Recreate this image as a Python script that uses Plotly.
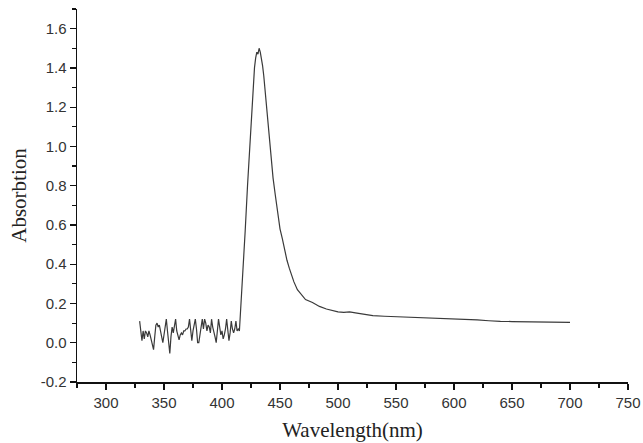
import plotly.graph_objects as go

wavelength = [
    329, 330, 331, 332, 333, 334, 335, 336, 337, 338, 339, 340, 341, 342, 343, 344, 345, 346, 347, 348,
    349, 350, 351, 352, 353, 354, 355, 356, 357, 358, 359, 360, 361, 362, 363, 364, 365, 366, 367, 368,
    369, 370, 371, 372, 373, 374, 375, 376, 377, 378, 379, 380, 381, 382, 383, 384, 385, 386, 387, 388,
    389, 390, 391, 392, 393, 394, 395, 396, 397, 398, 399, 400, 401, 402, 403, 404, 405, 406, 407, 408,
    409, 410, 411, 412, 413, 414, 415, 416, 417, 418, 420, 422, 424, 425, 426, 427, 428, 429, 430, 431,
    432, 433, 434, 435, 436, 438, 440, 442, 444, 446, 448, 450, 452, 454, 456, 458, 460, 462, 465, 468,
    472, 478, 484, 490, 495, 500, 505, 510, 515, 520, 525, 530, 540, 550, 560, 570, 580, 590, 600, 610,
    620, 630, 635, 640, 650, 660, 670, 680, 690, 700,
]

absorption = [
    0.11, 0.05, 0.01, 0.06, 0.02, 0.06, 0.05, 0.03, 0.06, 0.04, 0.01, -0.02, -0.035, 0.03, 0.09, 0.10, 0.08, 0.09, 0.05, 0.03,
    0.00, 0.04, 0.09, 0.12, 0.06, 0.01, -0.055, 0.03, 0.08, 0.05, 0.10, 0.12, 0.06, 0.03, 0.015, 0.04, 0.05, 0.04, 0.06, 0.06,
    0.07, 0.07, 0.08, 0.12, 0.06, 0.01, 0.06, 0.09, 0.12, 0.07, 0.00, 0.00, 0.05, 0.08, 0.12, 0.07, 0.12, 0.10, 0.06, 0.09,
    0.08, 0.05, 0.12, 0.08, 0.06, 0.03, 0.00, 0.06, 0.12, 0.08, 0.04, 0.06, 0.02, 0.04, 0.07, 0.12, 0.06, 0.01, 0.05, 0.11,
    0.07, 0.05, 0.07, 0.11, 0.06, 0.07, 0.06, 0.16, 0.22, 0.34, 0.57, 0.80, 1.02, 1.13, 1.23, 1.32, 1.40, 1.45, 1.48, 1.47,
    1.50, 1.48, 1.45, 1.41, 1.36, 1.22, 1.08, 0.95, 0.84, 0.75, 0.66, 0.58, 0.53, 0.47, 0.42, 0.38, 0.34, 0.31, 0.27, 0.25,
    0.22, 0.205, 0.185, 0.172, 0.163, 0.157, 0.155, 0.157, 0.152, 0.146, 0.141, 0.138, 0.135, 0.133, 0.131, 0.129, 0.126, 0.123, 0.121, 0.118,
    0.116, 0.112, 0.109, 0.109, 0.108, 0.107, 0.106, 0.106, 0.105, 0.104,
]

x_ticks = [300, 350, 400, 450, 500, 550, 600, 650, 700, 750]
y_ticks = [-0.2, 0.0, 0.2, 0.4, 0.6, 0.8, 1.0, 1.2, 1.4, 1.6]
y_tick_labels = ["-0.2", "0.0", "0.2", "0.4", "0.6", "0.8", "1.0", "1.2", "1.4", "1.6"]

fig = go.Figure()
fig.add_trace(go.Scatter(
    x=wavelength, y=absorption, mode="lines",
    line=dict(color="#3a3a3a", width=1.2),
    showlegend=False,
))

tick_font = dict(family="Liberation Sans, Arial, sans-serif", size=15, color="#333333")
title_font = dict(family="Liberation Serif, Times New Roman, serif", size=21, color="#222222")

fig.update_layout(
    width=643, height=443,
    margin=dict(l=77, r=15, t=9, b=61),
    paper_bgcolor="white", plot_bgcolor="white",
    xaxis=dict(
        range=[275, 750], tickvals=x_ticks, ticktext=[str(v) for v in x_ticks],
        showgrid=False, zeroline=False, showline=True, linecolor="#111111", linewidth=1.5,
        ticks="outside", ticklen=6, tickwidth=1.3, tickcolor="#111111",
        minor=dict(dtick=25, tick0=275, ticks="outside", ticklen=4, tickwidth=1.2, tickcolor="#111111"),
        tickfont=tick_font, automargin=False,
        title=dict(text="Wavelength(nm)", font=title_font, standoff=13),
    ),
    yaxis=dict(
        range=[-0.2, 1.7], tickvals=y_ticks, ticktext=y_tick_labels,
        showgrid=False, zeroline=False, showline=True, linecolor="#111111", linewidth=1.5,
        ticks="outside", ticklen=6, tickwidth=1.3, tickcolor="#111111",
        minor=dict(dtick=0.1, tick0=-0.2, ticks="outside", ticklen=4, tickwidth=1.2, tickcolor="#111111"),
        tickfont=tick_font, automargin=False,
        title=dict(text="Absorbtion", font=title_font, standoff=8),
    ),
)

fig.write_html(
    "out.html",
    config={"displayModeBar": False, "staticPlot": True},
    post_script="document.body.style.margin='0';document.body.style.overflow='hidden';",
)
